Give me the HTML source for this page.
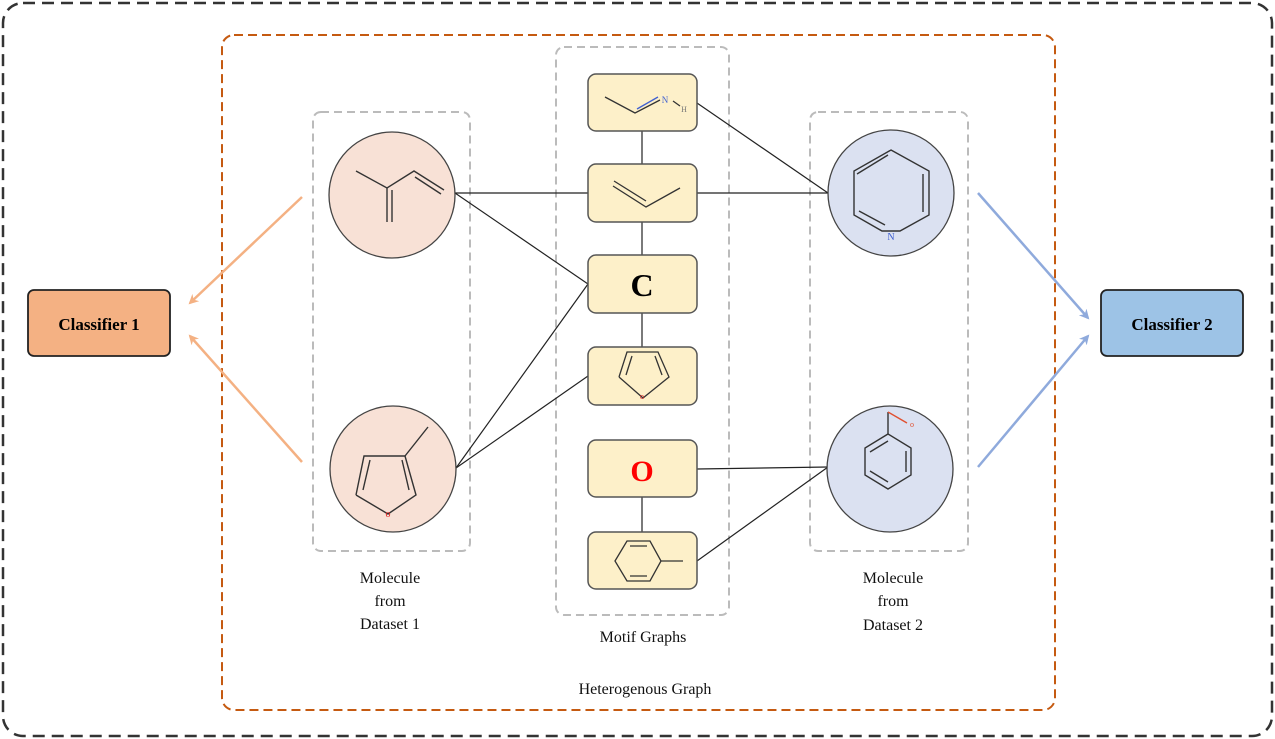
<!DOCTYPE html>
<html><head><meta charset="utf-8"><style>
html,body{margin:0;padding:0;background:#fff}
svg{display:block}
text{font-family:"Liberation Serif",serif}
</style></head><body>
<svg width="1275" height="739" viewBox="0 0 1275 739" xmlns="http://www.w3.org/2000/svg">
<defs>
<marker id="ao" markerWidth="10" markerHeight="10" refX="8" refY="5" orient="auto" markerUnits="userSpaceOnUse"><path d="M0,0 L10,5 L0,10 L3,5 z" fill="#f4b183"/></marker>
<marker id="ab" markerWidth="10" markerHeight="10" refX="8" refY="5" orient="auto" markerUnits="userSpaceOnUse"><path d="M0,0 L10,5 L0,10 L3,5 z" fill="#8faadc"/></marker>
</defs>
<rect x="3" y="3" width="1269" height="733" rx="20" fill="none" stroke="#333" stroke-width="2.5" stroke-dasharray="12,7"/>
<rect x="222" y="35" width="833" height="675" rx="12" fill="none" stroke="#c55a11" stroke-width="2" stroke-dasharray="9,5"/>
<rect x="313" y="112" width="157" height="439" rx="8" fill="none" stroke="#bbb" stroke-width="2" stroke-dasharray="8,5"/>
<rect x="556" y="47" width="173" height="568" rx="8" fill="none" stroke="#bbb" stroke-width="2" stroke-dasharray="8,5"/>
<rect x="810" y="112" width="158" height="439" rx="8" fill="none" stroke="#bbb" stroke-width="2" stroke-dasharray="8,5"/>

<g stroke="#222" stroke-width="1.2">
<line x1="455" y1="193" x2="588" y2="193"/>
<line x1="455" y1="193" x2="588" y2="284"/>
<line x1="456" y1="468" x2="588" y2="284"/>
<line x1="456" y1="468" x2="588" y2="376"/>
<line x1="697" y1="103" x2="828" y2="193"/>
<line x1="697" y1="193" x2="828" y2="193"/>
<line x1="697" y1="469" x2="828" y2="467"/>
<line x1="697" y1="561" x2="828" y2="467"/>
<line x1="642" y1="131" x2="642" y2="164"/>
<line x1="642" y1="222" x2="642" y2="255"/>
<line x1="642" y1="313" x2="642" y2="347"/>
<line x1="642" y1="497" x2="642" y2="532"/>
</g>

<g fill="#fdf0c9" stroke="#555" stroke-width="1.5">
<rect x="588" y="74" width="109" height="57" rx="8"/>
<rect x="588" y="164" width="109" height="58" rx="8"/>
<rect x="588" y="255" width="109" height="58" rx="8"/>
<rect x="588" y="347" width="109" height="58" rx="8"/>
<rect x="588" y="440" width="109" height="57" rx="8"/>
<rect x="588" y="532" width="109" height="57" rx="8"/>
</g>
<g stroke="#333" stroke-width="1.3" fill="none">
<!-- imine -->
<polyline points="605,97 635,113 660,100"/><line x1="637" y1="109" x2="658" y2="97" stroke="#4060d0"/>
<line x1="673" y1="101" x2="680" y2="106"/>
<!-- propene -->
<polyline points="613,186 646,207 680,188"/><line x1="614" y1="181" x2="646" y2="201"/>
<!-- furan -->
<polyline points="619,377 627,352 658,352 669,377 643,398 619,377"/>
<line x1="626" y1="375" x2="632" y2="356"/><line x1="662" y1="375" x2="655" y2="356"/>
<!-- toluene -->
<polygon points="615,561 627,541 650,541 661,561 650,581 627,581"/>
<line x1="661" y1="561" x2="683" y2="561"/>
<line x1="630" y1="546" x2="647" y2="546"/><line x1="630" y1="576" x2="647" y2="576"/>
</g>
<text x="642" y="399" font-size="8" fill="#e02020" text-anchor="middle" font-family="Liberation Sans">o</text>
<text x="665" y="103" font-size="9" fill="#4060d0" text-anchor="middle" font-family="Liberation Sans">N</text>
<text x="684" y="112" font-size="8" fill="#777" text-anchor="middle" font-family="Liberation Sans">H</text>
<text x="642" y="296" font-size="32" font-weight="bold" text-anchor="middle">C</text>
<text x="642" y="481" font-size="30" font-weight="bold" fill="#ff0000" text-anchor="middle">O</text>

<g stroke="#444" stroke-width="1.3">
<circle cx="392" cy="195" r="63" fill="#f8e1d6"/>
<circle cx="393" cy="469" r="63" fill="#f8e1d6"/>
<circle cx="891" cy="193" r="63" fill="#dbe1f1"/>
<circle cx="890" cy="469" r="63" fill="#dbe1f1"/>
</g>
<g stroke="#333" stroke-width="1.4" fill="none">
<!-- isoprene -->
<polyline points="356,171 387,188 414,171 444,190"/><line x1="415" y1="177" x2="441" y2="194"/>
<line x1="387" y1="188" x2="387" y2="222"/><line x1="392" y1="190" x2="392" y2="222"/>
<!-- methylfuran -->
<polyline points="356,495 364,456 405,456 416,495 388,514 356,495"/>
<line x1="363" y1="490" x2="370" y2="460"/><line x1="409" y1="490" x2="402" y2="460"/>
<line x1="405" y1="456" x2="428" y2="427"/>
<!-- pyridine -->
<polygon points="891,150 929,171 929,215 900,231 882,231 854,215 854,171"/>
<line x1="857" y1="174" x2="888" y2="155"/><line x1="923" y1="174" x2="923" y2="212"/><line x1="859" y1="211" x2="885" y2="225"/>
<!-- benzaldehyde -->
<polygon points="888,434 911,448 911,475 888,489 865,475 865,448"/>
<line x1="870" y1="452" x2="888" y2="441"/><line x1="906" y1="451" x2="906" y2="472"/><line x1="870" y1="471" x2="888" y2="482"/>
<line x1="888" y1="434" x2="888" y2="412"/><line x1="888" y1="412" x2="907" y2="423" stroke="#e05030"/>
</g>
<text x="388" y="517" font-size="10" fill="#e02020" text-anchor="middle" font-family="Liberation Sans">o</text>
<text x="891" y="240" font-size="10" fill="#4060d0" text-anchor="middle" font-family="Liberation Sans">N</text>
<text x="912" y="427" font-size="8" fill="#e05030" text-anchor="middle" font-family="Liberation Sans">o</text>

<rect x="28" y="290" width="142" height="66" rx="6" fill="#f4b183" stroke="#222" stroke-width="1.8"/>
<rect x="1101" y="290" width="142" height="66" rx="6" fill="#9dc3e6" stroke="#222" stroke-width="1.8"/>
<text x="99" y="330" font-size="17" font-weight="bold" text-anchor="middle">Classifier 1</text>
<text x="1172" y="330" font-size="17" font-weight="bold" text-anchor="middle">Classifier 2</text>

<g stroke-width="2.5">
<line x1="302" y1="197" x2="190" y2="303" stroke="#f4b183" marker-end="url(#ao)"/>
<line x1="302" y1="462" x2="190" y2="336" stroke="#f4b183" marker-end="url(#ao)"/>
<line x1="978" y1="193" x2="1088" y2="318" stroke="#8faadc" marker-end="url(#ab)"/>
<line x1="978" y1="467" x2="1088" y2="336" stroke="#8faadc" marker-end="url(#ab)"/>
</g>

<g font-size="16" text-anchor="middle" fill="#111">
<text x="390" y="583">Molecule</text><text x="390" y="606">from</text><text x="390" y="629">Dataset 1</text>
<text x="893" y="583">Molecule</text><text x="893" y="606">from</text><text x="893" y="630">Dataset 2</text>
<text x="643" y="642">Motif Graphs</text>
<text x="645" y="694">Heterogenous Graph</text>
</g>
</svg>
</body></html>
